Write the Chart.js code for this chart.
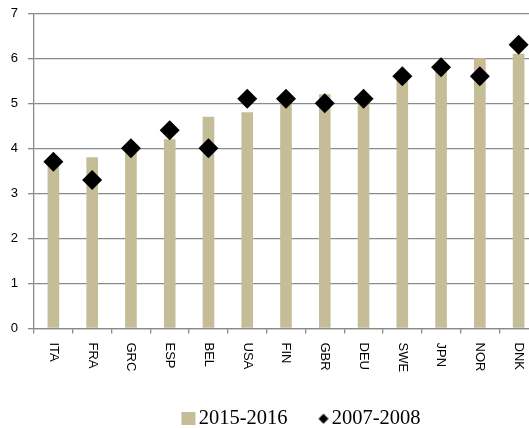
<!DOCTYPE html>
<html>
<head>
<meta charset="utf-8">
<script src="https://cdn.jsdelivr.net/npm/chart.js@4/dist/chart.umd.min.js"></script>
<style>
  html, body { margin: 0; padding: 0; background: #fff; overflow: hidden; }
  #wrap { width: 548px; height: 428px; }
</style>
</head>
<body>
<div id="wrap"><canvas id="chart" width="548" height="428"></canvas></div>
<script>
const countries = ['ITA', 'FRA', 'GRC', 'ESP', 'BEL', 'USA', 'FIN', 'GBR', 'DEU', 'SWE', 'JPN', 'NOR', 'DNK'];
const values2015 = [3.6, 3.8, 3.9, 4.2, 4.7, 4.8, 5.0, 5.2, 5.0, 5.5, 5.7, 6.0, 6.1];
const values2007 = [3.7, 3.3, 4.0, 4.4, 4.0, 5.1, 5.1, 5.0, 5.1, 5.6, 5.8, 5.6, 6.3];
const seriesNames = ['2015-2016', '2007-2008'];
const yMin = 0, yMax = 7, yStep = 1;

const tan = '#c4bd97';
const gray = '#8a8a8a';

// small images used as legend markers
function boxImg() {
    const c = document.createElement('canvas');
    c.width = 44; c.height = 13;
    const g = c.getContext('2d');
    g.fillStyle = tan;
    g.fillRect(27, 0, 14, 13);
    return c;
}
function diamondImg() {
    const c = document.createElement('canvas');
    c.width = 44; c.height = 12;
    const g = c.getContext('2d');
    g.fillStyle = '#000';
    g.beginPath();
    g.moveTo(36, 1); g.lineTo(41, 6); g.lineTo(36, 11); g.lineTo(31, 6);
    g.closePath();
    g.fill();
    return c;
}

// x labels rotated 90deg clockwise (read top to bottom)
const xLabelPlugin = {
    id: 'xLabels',
    afterDraw(chart) {
        const ctx = chart.ctx;
        const x = chart.scales.x;
        ctx.save();
        ctx.font = '13px "Liberation Sans"';
        ctx.fillStyle = '#000';
        ctx.textAlign = 'left';
        ctx.textBaseline = 'middle';
        countries.forEach((c, i) => {
            ctx.save();
            ctx.translate(x.getPixelForTick(i), x.top + 14);
            ctx.rotate(Math.PI / 2);
            ctx.fillText(c, 0, 0);
            ctx.restore();
        });
        ctx.restore();
    }
};

// move the legend a bit right/down like in the original
const legendShift = {
    id: 'legendShift',
    afterLayout(chart) {
        const l = chart.legend;
        l.left += 18.5; l.right += 18.5;
        l.top += 11; l.bottom += 11;
    }
};

var ctx = document.getElementById('chart').getContext('2d');
var chart = new Chart(ctx, {
    data: {
        labels: countries,
        datasets: [{
            type: 'line',
            label: seriesNames[1],
            data: values2007,
            showLine: false,
            pointStyle: 'rectRot',
            pointRadius: 10,
            pointHoverRadius: 10,
            pointBorderWidth: 0,
            pointBackgroundColor: '#000',
            borderColor: '#000',
            order: 1
        }, {
            type: 'bar',
            label: seriesNames[0],
            data: values2015,
            backgroundColor: tan,
            barPercentage: 0.3,
            categoryPercentage: 1.0,
            order: 2
        }]
    },
    options: {
        responsive: false,
        maintainAspectRatio: false,
        animation: false,
        layout: { padding: { top: 13, right: 0, left: 0, bottom: 0 } },
        plugins: {
            tooltip: { enabled: false },
            legend: {
                position: 'bottom',
                labels: {
                    usePointStyle: true,
                    pointStyleWidth: 24,
                    boxHeight: 12,
                    padding: 10,
                    color: '#000',
                    font: { family: '"Liberation Serif"', size: 20.5 },
                    generateLabels: () => [
                        { text: seriesNames[0], pointStyle: boxImg(), fillStyle: tan, strokeStyle: tan, lineWidth: 0, hidden: false, datasetIndex: 1 },
                        { text: seriesNames[1], pointStyle: diamondImg(), fillStyle: '#000', strokeStyle: '#000', lineWidth: 0, hidden: false, datasetIndex: 0 }
                    ]
                }
            }
        },
        scales: {
            x: {
                offset: true,
                afterFit: s => { s.height = 59; },
                ticks: { display: false },
                grid: { offset: true, drawOnChartArea: false, drawTicks: true, tickLength: 5, color: gray, lineWidth: 1.3 },
                border: { display: true, color: gray, width: 1.3 }
            },
            y: {
                min: yMin,
                max: yMax,
                afterFit: s => { s.width = 34; },
                ticks: {
                    stepSize: yStep,
                    padding: 10,
                    color: '#000',
                    font: { family: '"Liberation Sans"', size: 13, lineHeight: 0.5 }
                },
                grid: { color: gray, lineWidth: 1.3, tickLength: 6 },
                border: { display: true, color: gray, width: 1.3 }
            }
        }
    },
    plugins: [xLabelPlugin, legendShift]
});
</script>
</body>
</html>
